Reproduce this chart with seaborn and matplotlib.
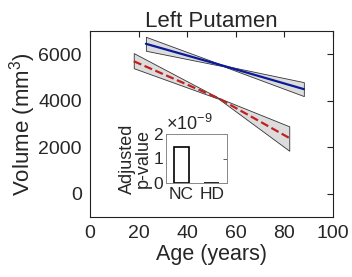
import numpy as np
import pandas as pd
import matplotlib
matplotlib.use("Agg")
import matplotlib.pyplot as plt
import seaborn as sns

# data
nc_age = [23, 55, 88]
nc_vol = [6450, 5500, 4500]
nc_lo = [6150, 5480, 4200]
nc_hi = [6750, 5520, 4800]

hd_age = [18, 53, 82]
hd_vol = [5700, 4100, 2400]
hd_lo = [5400, 4080, 1850]
hd_hi = [6050, 4120, 2900]

groups = ["NC", "HD"]
pvals = [1.45e-9, 0.02e-9]

sns.set_theme(style="white")
plt.rcParams['font.family'] = ['Liberation Sans', 'DejaVu Sans']
plt.rcParams['mathtext.fontset'] = 'custom'
plt.rcParams['mathtext.rm'] = 'Liberation Sans'

fig = plt.figure(figsize=(3.52, 2.77), dpi=100)
ax = fig.add_axes([90/352, 1-217/277, 243/352, 186/277])

ax.fill_between(nc_age, nc_lo, nc_hi, color="#dcdcdc", edgecolor="#333333", lw=0.6)
ax.fill_between(hd_age, hd_lo, hd_hi, color="#dcdcdc", edgecolor="#333333", lw=0.6)
sns.lineplot(x=nc_age, y=nc_vol, ax=ax, color="#0a1a9a", lw=1.6)
sns.lineplot(x=hd_age, y=hd_vol, ax=ax, color="#c02020", lw=1.6, linestyle="--")

ax.set_xlim(0, 100)
ax.set_ylim(-1000, 7000)
ax.set_xticks([0, 20, 40, 60, 80, 100])
ax.set_yticks([0, 2000, 4000, 6000])
ax.tick_params(direction="in", top=True, right=True, length=4, labelsize=14, pad=6,
               color="#222222", width=0.8)
for s in ax.spines.values():
    s.set_color("#222222")
    s.set_linewidth(0.8)
ax.set_xlabel("Age (years)", fontsize=15.5, labelpad=1)
ax.set_ylabel("Volume (mm$^3$)", fontsize=16, labelpad=0)
ax.set_title("Left Putamen", fontsize=16, pad=3)

# inset
ins = fig.add_axes([166/352, 1-183/277, 61/352, 49/277])
df = pd.DataFrame({"group": groups, "p": pvals})
sns.barplot(data=df, x="group", y="p", ax=ins, color="white", edgecolor="black",
            linewidth=1.2, width=0.5)
ins.set_ylim(0, 2e-9)
ins.set_yticks([0, 1e-9, 2e-9])
ins.set_yticklabels(["0", "1", "2"])
ins.set_xlabel("")
ins.set_ylabel("Adjusted\np-value", fontsize=13, labelpad=1, linespacing=0.9)
ins.tick_params(direction="in", right=True, length=3, labelsize=12.5, pad=2,
                color="#444444", width=0.6)
ins.tick_params(axis="x", length=0, pad=3)
for s in ins.spines.values():
    s.set_color("#888888")
    s.set_linewidth(0.7)
ins.text(0.0, 1.0, r"$\times10^{-9}$", transform=ins.transAxes, fontsize=13,
         ha="left", va="bottom")

fig.savefig("out.png", dpi=100)
